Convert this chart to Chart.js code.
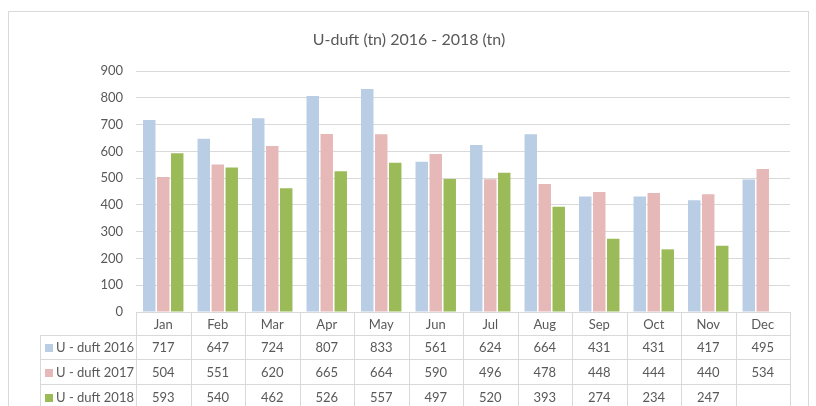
<!DOCTYPE html>
<html>
<head>
<meta charset="utf-8">
<script src="https://cdn.jsdelivr.net/npm/chart.js@4"></script>
<style>
  html, body { margin: 0; padding: 0; background: #fff; }
  #wrap { width: 816px; height: 406px; }
</style>
</head>
<body>
<div id="wrap"><canvas id="uduft" width="816" height="406"></canvas></div>
<script>
const months = ['Jan', 'Feb', 'Mar', 'Apr', 'May', 'Jun', 'Jul', 'Aug', 'Sep', 'Oct', 'Nov', 'Dec'];
const seriesNames = ['U - duft 2016', 'U - duft 2017', 'U - duft 2018'];
const duft2016 = [717, 647, 724, 807, 833, 561, 624, 664, 431, 431, 417, 495];
const duft2017 = [504, 551, 620, 665, 664, 590, 496, 478, 448, 444, 440, 534];
const duft2018 = [593, 540, 462, 526, 557, 497, 520, 393, 274, 234, 247, null];
const colors = ['#B9CDE5', '#E6B9B8', '#9BBB59'];
const titleText = 'U-duft (tn) 2016 - 2018 (tn)';

const FONT = 'Lato, "Liberation Sans", sans-serif';
const TEXT = '#595959';
const LINE = '#D9D9D9';

// frame, centred title and the data table under the plot
const tablePlugin = {
  id: 'dataTable',
  beforeDraw(chart) {
    const c = chart.ctx;
    c.save();
    c.strokeStyle = LINE;
    c.lineWidth = 1;
    c.strokeRect(8.5, 11.5, 800, 420);
    c.fillStyle = TEXT;
    c.font = '16px ' + FONT;
    c.textAlign = 'center';
    c.textBaseline = 'middle';
    c.fillText(titleText, 409, 40);
    c.restore();
  },
  afterDraw(chart) {
    const c = chart.ctx;
    const xs = chart.scales.x;
    const area = chart.chartArea;
    const left = area.left, right = area.right;
    const step = (right - left) / months.length;
    const rows = [area.bottom, 335, 359, 384, 409];
    const legendLeft = 40;

    c.save();
    c.strokeStyle = LINE;
    c.lineWidth = 1;
    c.beginPath();
    c.moveTo(left, rows[0] + 0.5); c.lineTo(right, rows[0] + 0.5);
    for (let r = 1; r < rows.length; r++) {
      c.moveTo(legendLeft, Math.round(rows[r]) + 0.5);
      c.lineTo(right, Math.round(rows[r]) + 0.5);
    }
    for (let i = 0; i <= months.length; i++) {
      const x = Math.round(left + i * step) + 0.5;
      c.moveTo(x, rows[0]); c.lineTo(x, rows[rows.length - 1]);
    }
    c.moveTo(legendLeft + 0.5, rows[1]); c.lineTo(legendLeft + 0.5, rows[rows.length - 1]);
    c.stroke();

    c.fillStyle = TEXT;
    c.font = '13px ' + FONT;
    c.textAlign = 'center';
    c.textBaseline = 'middle';
    months.forEach((m, i) => {
      c.fillText(m, xs.getPixelForValue(i), (rows[0] + rows[1]) / 2 + 1);
    });

    chart.data.datasets.forEach((ds, r) => {
      const yMid = (rows[r + 1] + rows[r + 2]) / 2 + 1;
      ds.data.forEach((v, i) => {
        if (v === null) return;
        c.textAlign = 'center';
        c.fillStyle = TEXT;
        c.fillText(String(v), xs.getPixelForValue(i), yMid);
      });
      c.fillStyle = ds.backgroundColor;
      c.fillRect(45, Math.round(yMid) - 4, 8, 8);
      c.fillStyle = TEXT;
      c.textAlign = 'left';
      c.fillText(ds.label, 56, yMid);
    });
    c.restore();
  }
};

const ctx = document.getElementById('uduft');
const chart = new Chart(ctx, {
  type: 'bar',
  data: {
    labels: months,
    datasets: [
      { label: seriesNames[0], data: duft2016, backgroundColor: colors[0] },
      { label: seriesNames[1], data: duft2017, backgroundColor: colors[1] },
      { label: seriesNames[2], data: duft2018, backgroundColor: colors[2] }
    ]
  },
  options: {
    responsive: false,
    animation: false,
    devicePixelRatio: 1,
    layout: { padding: { left: 0, right: 26, top: 71, bottom: 94 } },
    datasets: { bar: { categoryPercentage: 0.77, barPercentage: 0.89 } },
    plugins: {
      legend: { display: false },
      tooltip: { enabled: false },
      title: { display: false }
    },
    scales: {
      x: { display: false },
      y: {
        min: 0,
        max: 900,
        afterFit(scale) { scale.width = 136; },
        border: { display: false },
        grid: { color: LINE, drawTicks: false },
        ticks: {
          stepSize: 100,
          color: TEXT,
          padding: 13,
          font: { family: FONT, size: 13 }
        }
      }
    }
  },
  plugins: [tablePlugin]
});
</script>
</body>
</html>
